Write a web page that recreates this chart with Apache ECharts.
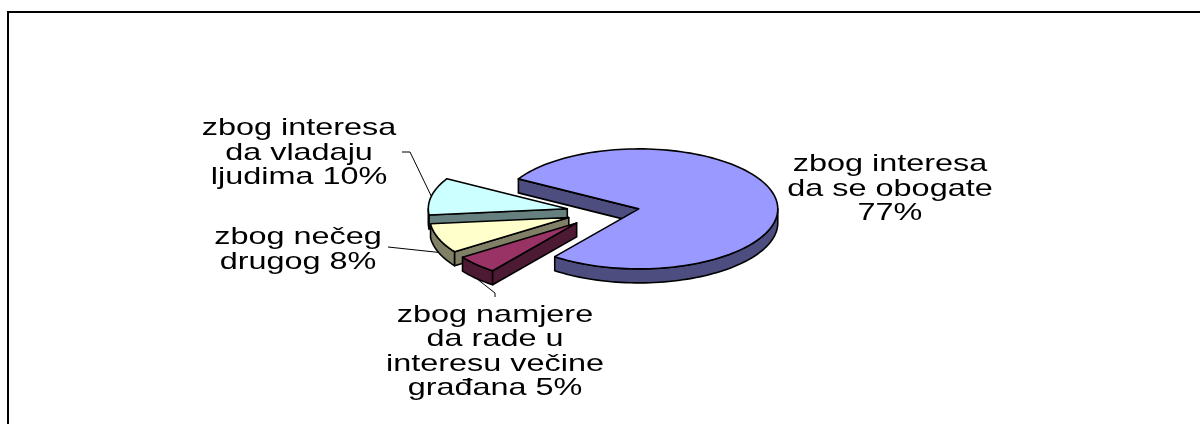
<!DOCTYPE html>
<html lang="hr">
  <head>
    <meta charset="UTF-8" />
    <title>Pie</title>
    <style>
      html, body { margin: 0; padding: 0; background: #fff; }
    </style>
  </head>
  <body>
    <div id="main" style="width: 1200px; height: 424px"></div>
    <script src="https://cdn.jsdelivr.net/npm/echarts@6/dist/echarts.min.js"></script>
    <script>
      // podaci
      var categories = [
        "zbog interesa da se obogate",
        "zbog namjere da rade u interesu večine građana",
        "zbog nečeg drugog",
        "zbog interesa da vladaju ljudima",
      ];
      var values = [77, 5, 8, 10];
      var labelLines = [
        ["zbog interesa", "da se obogate", "77%"],
        ["zbog namjere", "da rade u", "interesu večine", "građana 5%"],
        ["zbog nečeg", "drugog 8%"],
        ["zbog interesa", "da vladaju", "ljudima 10%"],
      ];

      // izgled
      var topColors = ["#9999ff", "#993366", "#ffffcc", "#ccffff"];
      var sideColors = ["#4d4d80", "#4d1a33", "#808066", "#668080"];
      var labelPos = [
        [890, 189],
        [495, 352],
        [298, 250],
        [299, 153],
      ];
      // lomljene linije od kriške do teksta (prva točka se računa iz kriške)
      var leaderTails = [
        null,
        [[495, 293], [495, 297]],
        [[388, 247]],
        [[410, 152], [402, 152]],
      ];
      var cx = 603;
      var cy = 212;
      var rx = 139;
      var ry = 60;
      var depth = 14;
      var explode = 36.5;
      var startAngle = 300;
      var total = values.reduce(function (a, b) {
        return a + b;
      }, 0);

      // kut se mjeri od 12 sati u smjeru kazaljke
      function point(x0, y0, deg, dy) {
        var a = (deg * Math.PI) / 180;
        return [x0 + rx * Math.sin(a), y0 - ry * Math.cos(a) + (dy || 0)];
      }
      function arc(x0, y0, from, to, dy) {
        var pts = [];
        var n = Math.max(2, Math.ceil(Math.abs(to - from) / 2));
        for (var i = 0; i <= n; i++) {
          pts.push(point(x0, y0, from + ((to - from) * i) / n, dy));
        }
        return pts;
      }
      function face(points, fill, z2) {
        return {
          type: "polygon",
          z2: z2,
          shape: { points: points },
          style: { fill: fill, stroke: "#000", lineWidth: 1.6, lineJoin: "round" },
        };
      }

      function renderSlice(params, api) {
        var idx = params.dataIndex;
        var a0 = startAngle;
        for (var i = 0; i < idx; i++) {
          a0 += (values[i] / total) * 360;
        }
        var a1 = a0 + (api.value(1) / total) * 360;
        var mid = (a0 + a1) / 2;
        var rad = (mid * Math.PI) / 180;
        var x0 = cx + explode * Math.sin(rad);
        var y0 = cy - explode * (ry / rx) * Math.cos(rad);
        var z2 = Math.round(100 - 100 * Math.cos(rad));
        var children = [];

        // vidljivi dio vanjskog zida (90-270 stupnjeva)
        [0, 360].forEach(function (k) {
          var from = Math.max(a0, 90 + k);
          var to = Math.min(a1, 270 + k);
          if (to > from) {
            var wall = arc(x0, y0, from, to, 0).concat(arc(x0, y0, to, from, depth));
            children.push(face(wall, sideColors[idx], z2));
          }
        });
        // rezna strana
        children.push(
          face(
            [
              [x0, y0],
              point(x0, y0, a0),
              point(x0, y0, a0, depth),
              [x0, y0 + depth],
            ],
            sideColors[idx],
            z2 + 1
          )
        );
        // gornja ploha
        children.push(face([[x0, y0]].concat(arc(x0, y0, a0, a1)), topColors[idx], z2 + 2));

        if (leaderTails[idx]) {
          var start = point(x0, y0, mid, Math.cos(rad) < 0 ? depth : 0);
          children.push({
            type: "polyline",
            z2: 300,
            shape: { points: [start].concat(leaderTails[idx]) },
            style: { fill: null, stroke: "#000", lineWidth: 1 },
          });
        }
        return { type: "group", children: children };
      }

      var chart = echarts.init(document.getElementById("main"), null, { renderer: "canvas" });

      var graphics = [
        {
          type: "polyline",
          shape: { points: [[8, 424], [8, 12], [1200, 12]] },
          style: { fill: null, stroke: "#000", lineWidth: 2 },
        },
      ];
      labelLines.forEach(function (lines, i) {
        graphics.push({
          type: "text",
          x: labelPos[i][0],
          y: labelPos[i][1],
          scaleX: 1.35,
          style: {
            text: lines.join("\n"),
            font: '24px "Liberation Sans"',
            lineHeight: 24.5,
            fill: "#000",
            align: "center",
            verticalAlign: "middle",
          },
        });
      });

      chart.setOption({
        animation: false,
        backgroundColor: "#fff",
        graphic: graphics,
        series: [
          {
            type: "custom",
            coordinateSystem: "none",
            silent: true,
            renderItem: renderSlice,
            data: values.map(function (v, i) {
              return { name: categories[i], value: [i, v] };
            }),
          },
        ],
      });
    </script>
  </body>
</html>
